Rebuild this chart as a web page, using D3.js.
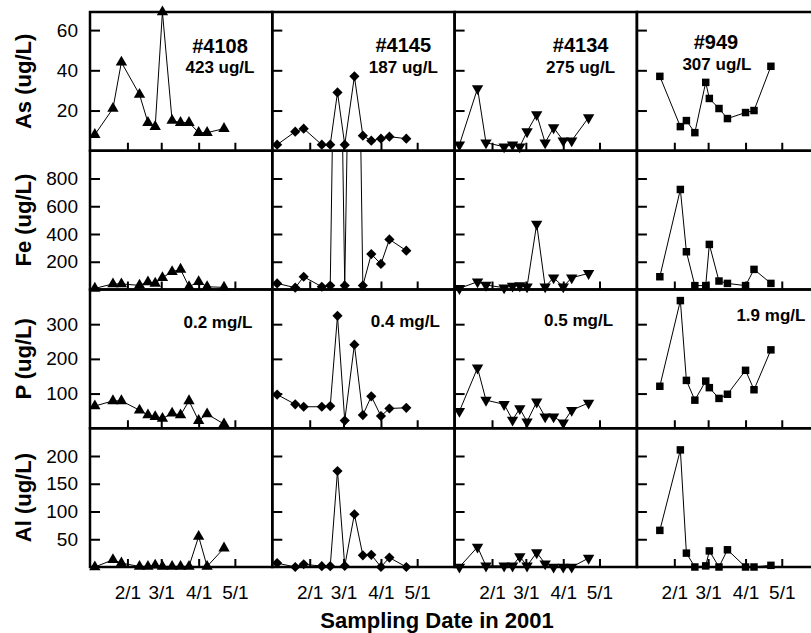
<!DOCTYPE html>
<html>
<head>
<meta charset="utf-8">
<script src="https://cdn.jsdelivr.net/npm/d3@7"></script>
<style>
  html, body { margin: 0; padding: 0; background: #fff; }
  svg { display: block; font-family: "Liberation Sans", Arial, Helvetica, sans-serif; }
</style>
</head>
<body>
<div id="chart"></div>
<script>
"use strict";
// sites (columns) and elements (rows)
const sites = ["#4108", "#4145", "#4134", "#949"];
const siteAs = ["423 ug/L", "187 ug/L", "275 ug/L", "307 ug/L"];
const siteP = ["0.2 mg/L", "0.4 mg/L", "0.5 mg/L", "1.9 mg/L"];
const elements = ["As", "Fe", "P", "Al"];
const yMax = [69, 1000, 400, 250];
const yTicks = [[20, 40, 60], [200, 400, 600, 800], [100, 200, 300], [50, 100, 150, 200]];
const xTicks = ["2001-02-01", "2001-03-01", "2001-04-01", "2001-05-01"];

// sampling dates
const dates13 = ["2001-01-05", "2001-01-20", "2001-01-27", "2001-02-11", "2001-02-18", "2001-02-24",
                 "2001-03-02", "2001-03-10", "2001-03-17", "2001-03-24", "2001-04-01", "2001-04-08", "2001-04-22"];
const dates949 = ["2001-01-20", "2001-02-06", "2001-02-11", "2001-02-18", "2001-02-27", "2001-03-02",
                  "2001-03-10", "2001-03-17", "2001-04-01", "2001-04-08", "2001-04-22"];

// #4108
const as4108 = [8, 21, 44, 28, 14, 12, 69, 15, 14, 14, 9, 9, 11];
const fe4108 = [8, 40, 40, 30, 54, 44, 85, 128, 145, 20, 56, 20, 15];
const p4108 = [64, 79, 79, 52, 38, 33, 28, 43, 38, 79, 22, 41, 12];
const al4108 = [0, 13, 7, 1, 1, 3, 1, 1, 1, 1, 55, 1, 34];
// #4145
const as4145 = [3, 9.5, 11, 3, 3, 29, 3, 37, 7.5, 5, 6, 7, 6];
const fe4145 = [44, 13, 92, 20, 28, 3500, 28, 4200, 28, 255, 184, 361, 280];
const p4145 = [97, 69, 62, 62, 64, 324, 22, 241, 38, 92, 35, 57, 59];
const al4145 = [7, 0, 5, 1.5, 1.5, 173, 2, 95, 21, 22, 0, 17, 0];
// #4134
const as4134 = [3, 31, 4, 2, 3, 2, 9.5, 18, 4, 11.5, 5, 5, 16.5];
const fe4134 = [8, 56, 32, 13, 25, 28, 20, 472, 20, 85, 20, 85, 116];
const p4134 = [49, 174, 81, 69, 24, 57, 19, 76, 33, 33, 16, 52, 73];
const al4134 = [0, 36, 2, 2, 2, 19, 2, 26, 6, 0, 0, 0, 16];
// #949
const as949 = [37, 12, 15, 9, 34, 26, 21, 16, 19, 20, 42];
const fe949 = [92, 721, 272, 28, 28, 325, 61, 44, 28, 145, 44];
const p949 = [121, 368, 138, 81, 136, 117, 86, 98, 167, 111, 226];
const al949 = [66, 211, 25, 0, 2, 29, 0, 31, 0, 0, 3];

const siteDates = [dates13, dates13, dates13, dates949];
const siteValues = [
    [as4108, fe4108, p4108, al4108],
    [as4145, fe4145, p4145, al4145],
    [as4134, fe4134, p4134, al4134],
    [as949, fe949, p949, al949]
];

const width = 811, height = 633;
const marginLeft = 90, marginTop = 12;
const colW = 182.3, rowH = 138.75;

// annotation placement inside panels [x center, baseline]
const idPos = [[130, 41], [131, 40], [126, 40], [79, 37]];
const asPos = [[130, 61], [131, 61], [126, 61], [80, 58]];
const pPos = [[128, 38], [133, 37], [124, 36], [134, 31]];

const parseDate = d3.timeParse("%Y-%m-%d");
const markers = [
    {type: d3.symbolTriangle, size: 56, rotate: 0},
    {type: d3.symbolSquare, size: 52, rotate: 45},
    {type: d3.symbolTriangle, size: 56, rotate: 180},
    {type: d3.symbolSquare, size: 56, rotate: 0}
];

const svg = d3.select("#chart").append("svg")
    .attr("width", width)
    .attr("height", height)
    .attr("viewBox", [0, 0, width, height]);

const x = d3.scaleTime()
    .domain([parseDate("2001-01-01"), parseDate("2001-06-01")])
    .range([0, colW]);

elements.forEach((el, r) => {
    const y = d3.scaleLinear().domain([0, yMax[r]]).range([rowH, 0]);

    sites.forEach((site, c) => {
        const g = svg.append("g")
            .attr("transform", `translate(${marginLeft + c * colW},${marginTop + r * rowH})`);

        const clipId = `clip-${r}-${c}`;
        g.append("clipPath").attr("id", clipId)
          .append("rect")
            .attr("width", colW)
            .attr("height", rowH);

        // y axis, ticks pointing in
        const yAxis = g.append("g")
            .call(d3.axisLeft(y).tickValues(yTicks[r]).tickSize(-10).tickPadding(12))
            .call(g => g.select(".domain").remove());
        yAxis.selectAll("line").attr("stroke-width", 2);
        yAxis.selectAll("text")
            .attr("font-size", 19)
            .attr("font-family", "Liberation Sans, Arial, sans-serif")
            .attr("fill", "#000")
            .style("display", c === 0 ? null : "none");

        // x axis
        const xAxis = g.append("g")
            .attr("transform", `translate(0,${rowH})`)
            .call(d3.axisBottom(x).tickValues(xTicks.map(parseDate))
                .tickSize(-8).tickPadding(19).tickFormat(d3.timeFormat("%-m/%-d")))
            .call(g => g.select(".domain").remove());
        xAxis.selectAll("line").attr("stroke-width", 2);
        xAxis.selectAll("text")
            .attr("font-size", 19)
            .attr("font-family", "Liberation Sans, Arial, sans-serif")
            .attr("fill", "#000")
            .style("display", r === elements.length - 1 ? null : "none");

        const data = siteDates[c].map((d, i) => ({date: parseDate(d), value: siteValues[c][r][i]}));

        const line = d3.line()
            .x(d => x(d.date))
            .y(d => y(d.value));

        g.append("path")
            .datum(data)
            .attr("clip-path", `url(#${clipId})`)
            .attr("fill", "none")
            .attr("stroke", "#000")
            .attr("stroke-width", 1)
            .attr("d", line);

        const m = markers[c];
        g.selectAll(".pt")
            .data(data.filter(d => d.value <= yMax[r] * 1.05))
            .join("path")
            .attr("class", "pt")
            .attr("transform", d => `translate(${x(d.date)},${y(d.value)}) rotate(${m.rotate})`)
            .attr("d", d3.symbol(m.type, m.size))
            .attr("fill", "#000");

        // panel frame
        g.append("rect")
            .attr("width", colW)
            .attr("height", rowH)
            .attr("fill", "none")
            .attr("stroke", "#000")
            .attr("stroke-width", 2.5);

        if (r === 0) {
            g.append("text")
                .attr("x", idPos[c][0])
                .attr("y", idPos[c][1])
                .attr("text-anchor", "middle")
                .attr("font-size", 20)
                .attr("font-weight", "bold")
                .text(site);
            g.append("text")
                .attr("x", asPos[c][0])
                .attr("y", asPos[c][1])
                .attr("text-anchor", "middle")
                .attr("font-size", 17)
                .attr("font-weight", "bold")
                .text(siteAs[c]);
        }
        if (r === 2) {
            g.append("text")
                .attr("x", pPos[c][0])
                .attr("y", pPos[c][1])
                .attr("text-anchor", "middle")
                .attr("font-size", 17)
                .attr("font-weight", "bold")
                .text(siteP[c]);
        }
    });

    // row title
    const cy = marginTop + r * rowH + rowH / 2;
    svg.append("text")
        .attr("transform", `translate(31,${cy}) rotate(-90)`)
        .attr("text-anchor", "middle")
        .attr("font-size", 22)
        .attr("font-weight", "bold")
        .text(`${el} (ug/L)`);
});

svg.append("text")
    .attr("x", 437)
    .attr("y", 628)
    .attr("text-anchor", "middle")
    .attr("font-size", 22)
    .attr("font-weight", "bold")
    .text("Sampling Date in 2001");
</script>
</body>
</html>
